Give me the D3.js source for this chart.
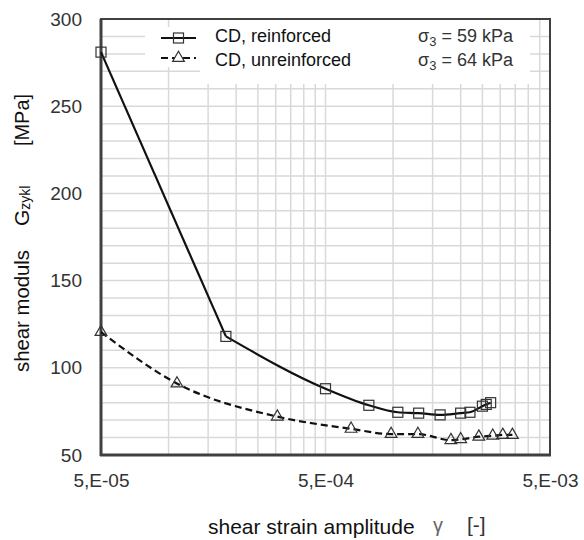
<!DOCTYPE html>
<html><head><meta charset="utf-8">
<script src="https://cdn.jsdelivr.net/npm/d3@7"></script>
<style>
body{margin:0;background:#fff;}
text{font-family:Arial,"Liberation Sans",sans-serif;}
</style></head>
<body><svg id="chart" width="584" height="540"></svg>
<script>
// ---- data ----
const reinfStrain = [5e-5, 1.8e-4, 5.0e-4, 7.8e-4, 1.05e-3, 1.3e-3, 1.62e-3, 2.0e-3, 2.2e-3, 2.5e-3, 2.6e-3, 2.72e-3];
const reinfG      = [281, 118, 88, 78.5, 74.5, 74, 73, 74, 74.5, 78, 79, 80];
const unreinfStrain = [5e-5, 1.09e-4, 3.05e-4, 6.5e-4, 9.8e-4, 1.29e-3, 1.81e-3, 2.0e-3, 2.41e-3, 2.78e-3, 3.08e-3, 3.4e-3];
const unreinfG      = [120.5, 91, 72, 65, 62, 62, 58.5, 59, 60.5, 61, 61.5, 61.5];
const seriesNames = ["CD, reinforced", "CD, unreinforced"];
const sigmaValues = ["59", "64"];
const xTickValues = [5e-5, 5e-4, 5e-3];
const xTickLabels = ["5,E-05", "5,E-04", "5,E-03"];
const yTickValues = [50, 100, 150, 200, 250, 300];

// ---- layout ----
const svg = d3.select("#chart");
const L = 101, R = 550, T = 19, B = 455;
const x = d3.scaleLog().domain([5e-5, 5e-3]).range([L, R]);
const y = d3.scaleLinear().domain([50, 300]).range([B, T]);
const textCol = "#333";

// grid
const g = svg.append("g");
const xGrid = [];
[5e-5, 5e-4].forEach(d => { for (let k = 2; k <= 10; k++) xGrid.push(d * k); });
g.selectAll("line.xg").data(xGrid).enter().append("line")
  .attr("x1", d => x(d)).attr("x2", d => x(d)).attr("y1", T).attr("y2", B)
  .attr("stroke", "#d9d9d9").attr("stroke-width", 1.5);
g.selectAll("line.yg").data(d3.range(60, 300, 10)).enter().append("line")
  .attr("x1", L).attr("x2", R).attr("y1", d => y(d)).attr("y2", d => y(d))
  .attr("stroke", "#d9d9d9").attr("stroke-width", 1.5);

// legend backgrounds (cover gridlines)
svg.append("rect").attr("x", 145).attr("y", 27).attr("width", 60).attr("height", 40).attr("fill", "#fff");
svg.append("rect").attr("x", 200).attr("y", 20).attr("width", 330).attr("height", 64).attr("fill", "#fff");

// border
svg.append("rect").attr("x", L).attr("y", T).attr("width", R - L).attr("height", B - T)
  .attr("fill", "none").attr("stroke", "#404040").attr("stroke-width", 2);
svg.append("line").attr("x1", L).attr("x2", L).attr("y1", T).attr("y2", B + 1)
  .attr("stroke", "#404040").attr("stroke-width", 3);
svg.append("line").attr("x1", L - 1).attr("x2", R + 1).attr("y1", B).attr("y2", B)
  .attr("stroke", "#404040").attr("stroke-width", 3);

// axes
const yAxis = svg.append("g").attr("transform", `translate(${L},0)`)
  .call(d3.axisLeft(y).tickValues(yTickValues).tickSize(0).tickPadding(19).tickFormat(d3.format("d")));
yAxis.select(".domain").remove();
yAxis.selectAll("text").attr("font-size", 19).attr("fill", textCol).attr("font-family", "Arial, Liberation Sans, sans-serif");

const xAxis = svg.append("g").attr("transform", `translate(0,${B})`)
  .call(d3.axisBottom(x).tickValues(xTickValues).tickSize(0).tickPadding(19)
    .tickFormat((d, i) => xTickLabels[i]));
xAxis.select(".domain").remove();
xAxis.selectAll("text").attr("font-size", 19).attr("fill", textCol).attr("font-family", "Arial, Liberation Sans, sans-serif");

// series
const reinf = reinfStrain.map((s, i) => [s, reinfG[i]]);
const unreinf = unreinfStrain.map((s, i) => [s, unreinfG[i]]);
const line = d3.line().x(d => x(d[0])).y(d => y(d[1]));
const smooth = d3.line().x(d => x(d[0])).y(d => y(d[1])).curve(d3.curveMonotoneX);

svg.append("path").attr("d", smooth(unreinf)).attr("fill", "none")
  .attr("stroke", "#111").attr("stroke-width", 2.2).attr("stroke-dasharray", "7,4");
svg.append("path").attr("d", line(reinf.slice(0, 2)) ).attr("fill", "none")
  .attr("stroke", "#111").attr("stroke-width", 2.2);
svg.append("path").attr("d", smooth(reinf.slice(1))).attr("fill", "none")
  .attr("stroke", "#111").attr("stroke-width", 2.2);

const sq = 10;
svg.selectAll("rect.m").data(reinf).enter().append("rect")
  .attr("x", d => x(d[0]) - sq / 2).attr("y", d => y(d[1]) - sq / 2)
  .attr("width", sq).attr("height", sq).attr("fill", "none")
  .attr("stroke", "#333").attr("stroke-width", 1.2);
const tri = d3.symbol().type(d3.symbolTriangle).size(60);
svg.selectAll("path.t").data(unreinf).enter().append("path")
  .attr("d", tri).attr("transform", d => `translate(${x(d[0])},${y(d[1])})`)
  .attr("fill", "none").attr("stroke", "#333").attr("stroke-width", 1.2);

// legend
const lg = svg.append("g");
lg.append("line").attr("x1", 161).attr("x2", 196).attr("y1", 38).attr("y2", 38)
  .attr("stroke", "#111").attr("stroke-width", 2.2);
lg.append("rect").attr("x", 178.5 - sq / 2).attr("y", 38 - sq / 2).attr("width", sq).attr("height", sq)
  .attr("fill", "none").attr("stroke", "#333").attr("stroke-width", 1.2);
lg.append("line").attr("x1", 161).attr("x2", 196).attr("y1", 58).attr("y2", 58)
  .attr("stroke", "#111").attr("stroke-width", 2.2).attr("stroke-dasharray", "7,4");
lg.append("path").attr("d", tri).attr("transform", "translate(178.5,58)")
  .attr("fill", "#fff").attr("stroke", "#333").attr("stroke-width", 1.2);
seriesNames.forEach((n, i) => {
  lg.append("text").attr("x", 215).attr("y", 42 + i * 24).attr("font-size", 18)
    .attr("fill", "#111").text(n);
});
sigmaValues.forEach((v, i) => {
  const t = lg.append("text").attr("x", 513).attr("y", 42 + i * 24).attr("font-size", 18)
    .attr("text-anchor", "end").attr("fill", textCol);
  t.append("tspan").text("σ");
  t.append("tspan").attr("font-size", 13).attr("dy", 4).text("3");
  t.append("tspan").attr("dy", -4).text(" = " + v + " kPa");
});

// axis titles
svg.append("text").attr("x", 208).attr("y", 534).attr("font-size", 21).attr("fill", "#111")
  .text("shear strain amplitude");
svg.append("text").attr("x", 433).attr("y", 532).attr("font-size", 20).attr("fill", "#666")
  .attr("font-family", "DejaVu Serif, serif").text("γ");
svg.append("text").attr("x", 467).attr("y", 532).attr("font-size", 21).attr("fill", "#333")
  .text("[-]");

const yt = svg.append("g").attr("transform", "translate(29,0) rotate(-90)");
yt.append("text").attr("x", -372).attr("y", 0).attr("font-size", 20).attr("fill", "#111")
  .attr("textLength", 122).attr("lengthAdjust", "spacingAndGlyphs").text("shear moduls");
const gt = yt.append("text").attr("x", -226).attr("y", 0).attr("font-size", 21).attr("fill", "#111");
gt.append("tspan").text("G");
gt.append("tspan").attr("font-size", 14).attr("dy", 1).text("zykl");
yt.append("text").attr("x", -146).attr("y", 0).attr("font-size", 20).attr("fill", "#111")
  .attr("textLength", 52).attr("lengthAdjust", "spacingAndGlyphs").text("[MPa]");
</script></body></html>
